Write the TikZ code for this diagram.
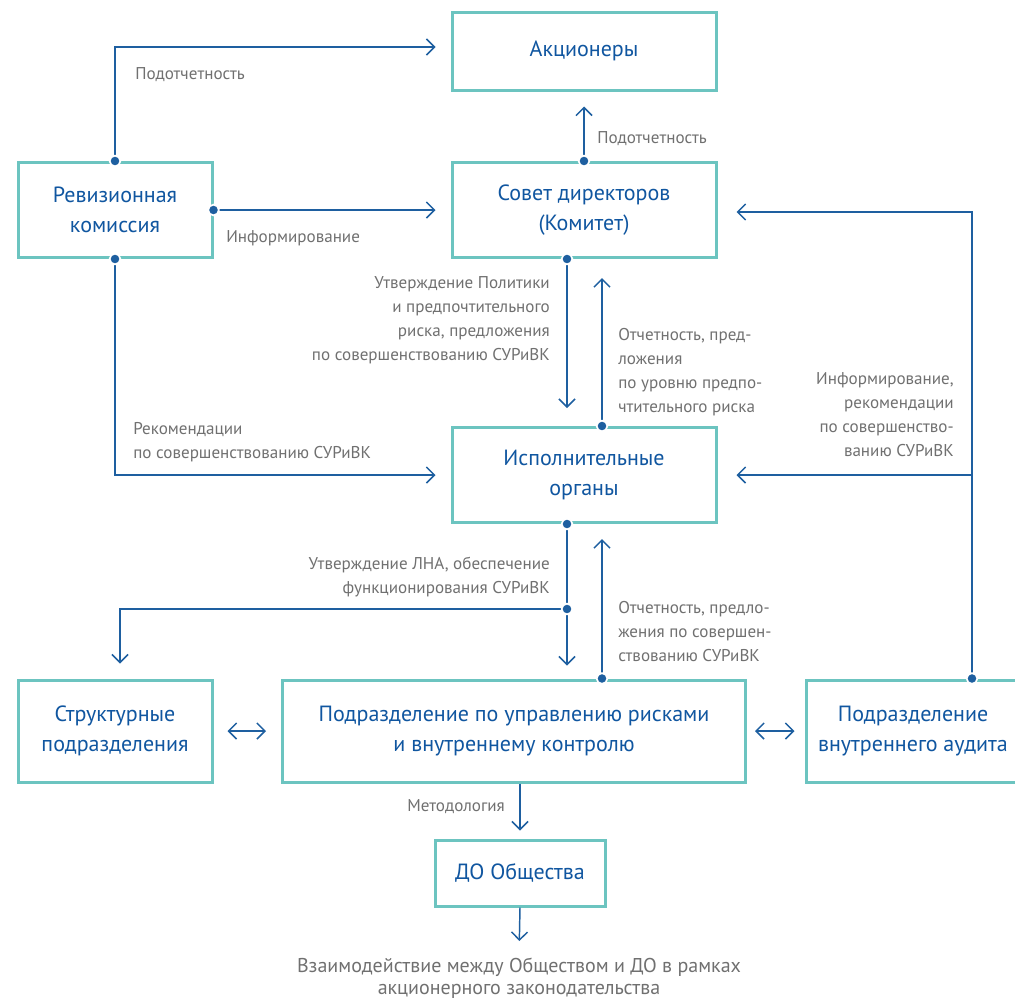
\documentclass[tikz,border=0pt]{standalone}
\usepackage{fontspec}
\setmainfont{PT Sans}
\usetikzlibrary{arrows.meta,positioning}

\definecolor{boxline}{RGB}{108,196,192}
\definecolor{boxtext}{RGB}{16,86,160}
\definecolor{wire}{RGB}{30,95,160}
\definecolor{note}{RGB}{112,112,112}

\tikzset{
  unit/.style={draw=boxline,line width=2.25pt,fill=white,text=boxtext,align=center,
    inner sep=0pt,font=\fontsize{16.5}{22.5}\selectfont},
  link/.style={draw=wire,line width=1.1pt,-{Straight Barb[length=6pt,width=12pt,line width=1.1pt]}},
  twoway/.style={draw=wire,line width=1.1pt,{Straight Barb[length=6pt,width=12pt,line width=1.1pt]}-{Straight Barb[length=6pt,width=12pt,line width=1.1pt]}},
  joint/.style={circle,fill=wire,draw=white,line width=1.3pt,inner sep=0pt,minimum size=8pt},
  remark/.style={text=note,inner sep=0pt,font=\fontsize{12.8}{18}\selectfont},
}

\begin{document}
\begin{tikzpicture}[x=0.75pt,y=-0.75pt]
 \useasboundingbox (0,0) rectangle (1015,1000);

 %Boxes
 \node (share)   [unit,minimum width=198pt,minimum height=58.5pt]  at (584,51)  {Акционеры};
 \node (council) [unit,minimum width=198pt,minimum height=71.25pt] at (584,210) {Совет директоров\\(Комитет)};
 \node (rev)     [unit,minimum width=145.5pt,minimum height=71.25pt] at (115,210) {Ревизионная\\комиссия};
 \node (exec)    [unit,minimum width=198pt,minimum height=71.25pt] at (584,475) {Исполнительные\\органы};
 \node (struct)  [unit,minimum width=145.5pt,minimum height=76.5pt] at (115,731) {Структурные\\подразделения};
 \node (risk)    [unit,minimum width=347.25pt,minimum height=76.5pt] at (514,731) {Подразделение по управлению рисками\\и внутреннему контролю};
 \node (audit)   [unit,minimum width=160.5pt,minimum height=76.5pt] at (913,731) {Подразделение\\внутреннего аудита};
 \node (subs)    [unit,minimum width=127.5pt,minimum height=49.5pt] at (520,873) {ДО Общества};
 \node (outcome) [remark,align=center,font=\fontsize{15}{16.5}\selectfont,anchor=north] at (519,958)
   {Взаимодействие между Обществом и ДО в рамках\\акционерного законодательства};

 %Points on the boxes
 \coordinate (councilOut) at ([xshift=-12.75pt]council.south);
 \coordinate (execIn)     at ([xshift=13.5pt]exec.north);
 \coordinate (execOut)    at ([xshift=-12.75pt]exec.south);
 \coordinate (fork)       at ([yshift=-63.75pt]execOut);
 \coordinate (riskIn)     at ([xshift=66pt]risk.north);
 \coordinate (auditTop)   at ([xshift=44.25pt]audit.north);

 %Connectors
 \draw[link,shorten >=11.25pt] (rev.north) |- ([yshift=3pt]share.west);
 \draw[link,shorten >=11.25pt] (rev.east) -- (council.west |- rev.east);
 \draw[link,shorten >=11.25pt] (rev.south) |- (exec.west);
 \draw[link,shorten >=11.25pt] (council.north) -- (share.south);
 \draw[link,shorten >=13.5pt] (councilOut) -- (councilOut |- exec.north);
 \draw[link,shorten >=14.25pt] (execIn) -- (execIn |- council.south);
 \draw[link,shorten >=14.25pt] (auditTop) |- ([yshift=-1.5pt]council.east);
 \draw[link,shorten >=14.25pt] (auditTop |- exec.east) -- (exec.east);
 \draw[link,shorten >=9.75pt] (execOut) -- (execOut |- risk.north);
 \draw[link,shorten >=11.25pt] (fork) -| ([xshift=3.75pt]struct.north);
 \draw[link,shorten >=11.25pt] (riskIn) -- (riskIn |- exec.south);
 \draw[twoway,shorten <=10.5pt,shorten >=11.25pt] (struct.east) -- (risk.west);
 \draw[twoway,shorten <=6pt,shorten >=7.5pt] (risk.east) -- (audit.west);
 \draw[link,shorten >=6pt] (subs.north |- risk.south) -- (subs.north);
 \draw[link,shorten >=12.75pt] (subs.south) -- (outcome.north);

 %Joints
 \foreach \p in {rev.north,rev.east,rev.south,council.north,councilOut,execIn,execOut,fork,riskIn,auditTop}
   \node[joint] at (\p) {};

 %Labels of connectors
 \node (l1)  [remark,anchor=north west] at (135,67)  {Подотчетность};
 \node (l2)  [remark,anchor=north west] at (597,131) {Подотчетность};
 \node (l3)  [remark,anchor=north west] at (226,230) {Информирование};
 \node (l4)  [remark,anchor=north east,align=right] at (550,276)
   {Утверждение Политики\\и предпочтительного\\риска, предложения\\по совершенствованию СУРиВК};
 \node (l5)  [remark,anchor=north west,align=left] at (618,328)
   {Отчетность, пред-\\ложения\\по уровню предпо-\\чтительного риска};
 \node (l6)  [remark,anchor=north west,align=left] at (133,422)
   {Рекомендации\\по совершенствованию СУРиВК};
 \node (l7)  [remark,anchor=north east,align=right] at (954,372)
   {Информирование,\\рекомендации\\по совершенство-\\ванию СУРиВК};
 \node (l8)  [remark,anchor=north east,align=right] at (550,557)
   {Утверждение ЛНА, обеспечение\\функционирования СУРиВК};
 \node (l9)  [remark,anchor=north west,align=left] at (618,601)
   {Отчетность, предло-\\жения по совершен-\\ствованию СУРиВК};
 \node (l10) [remark,anchor=north east] at (505,799) {Методология};
\end{tikzpicture}
\end{document}
